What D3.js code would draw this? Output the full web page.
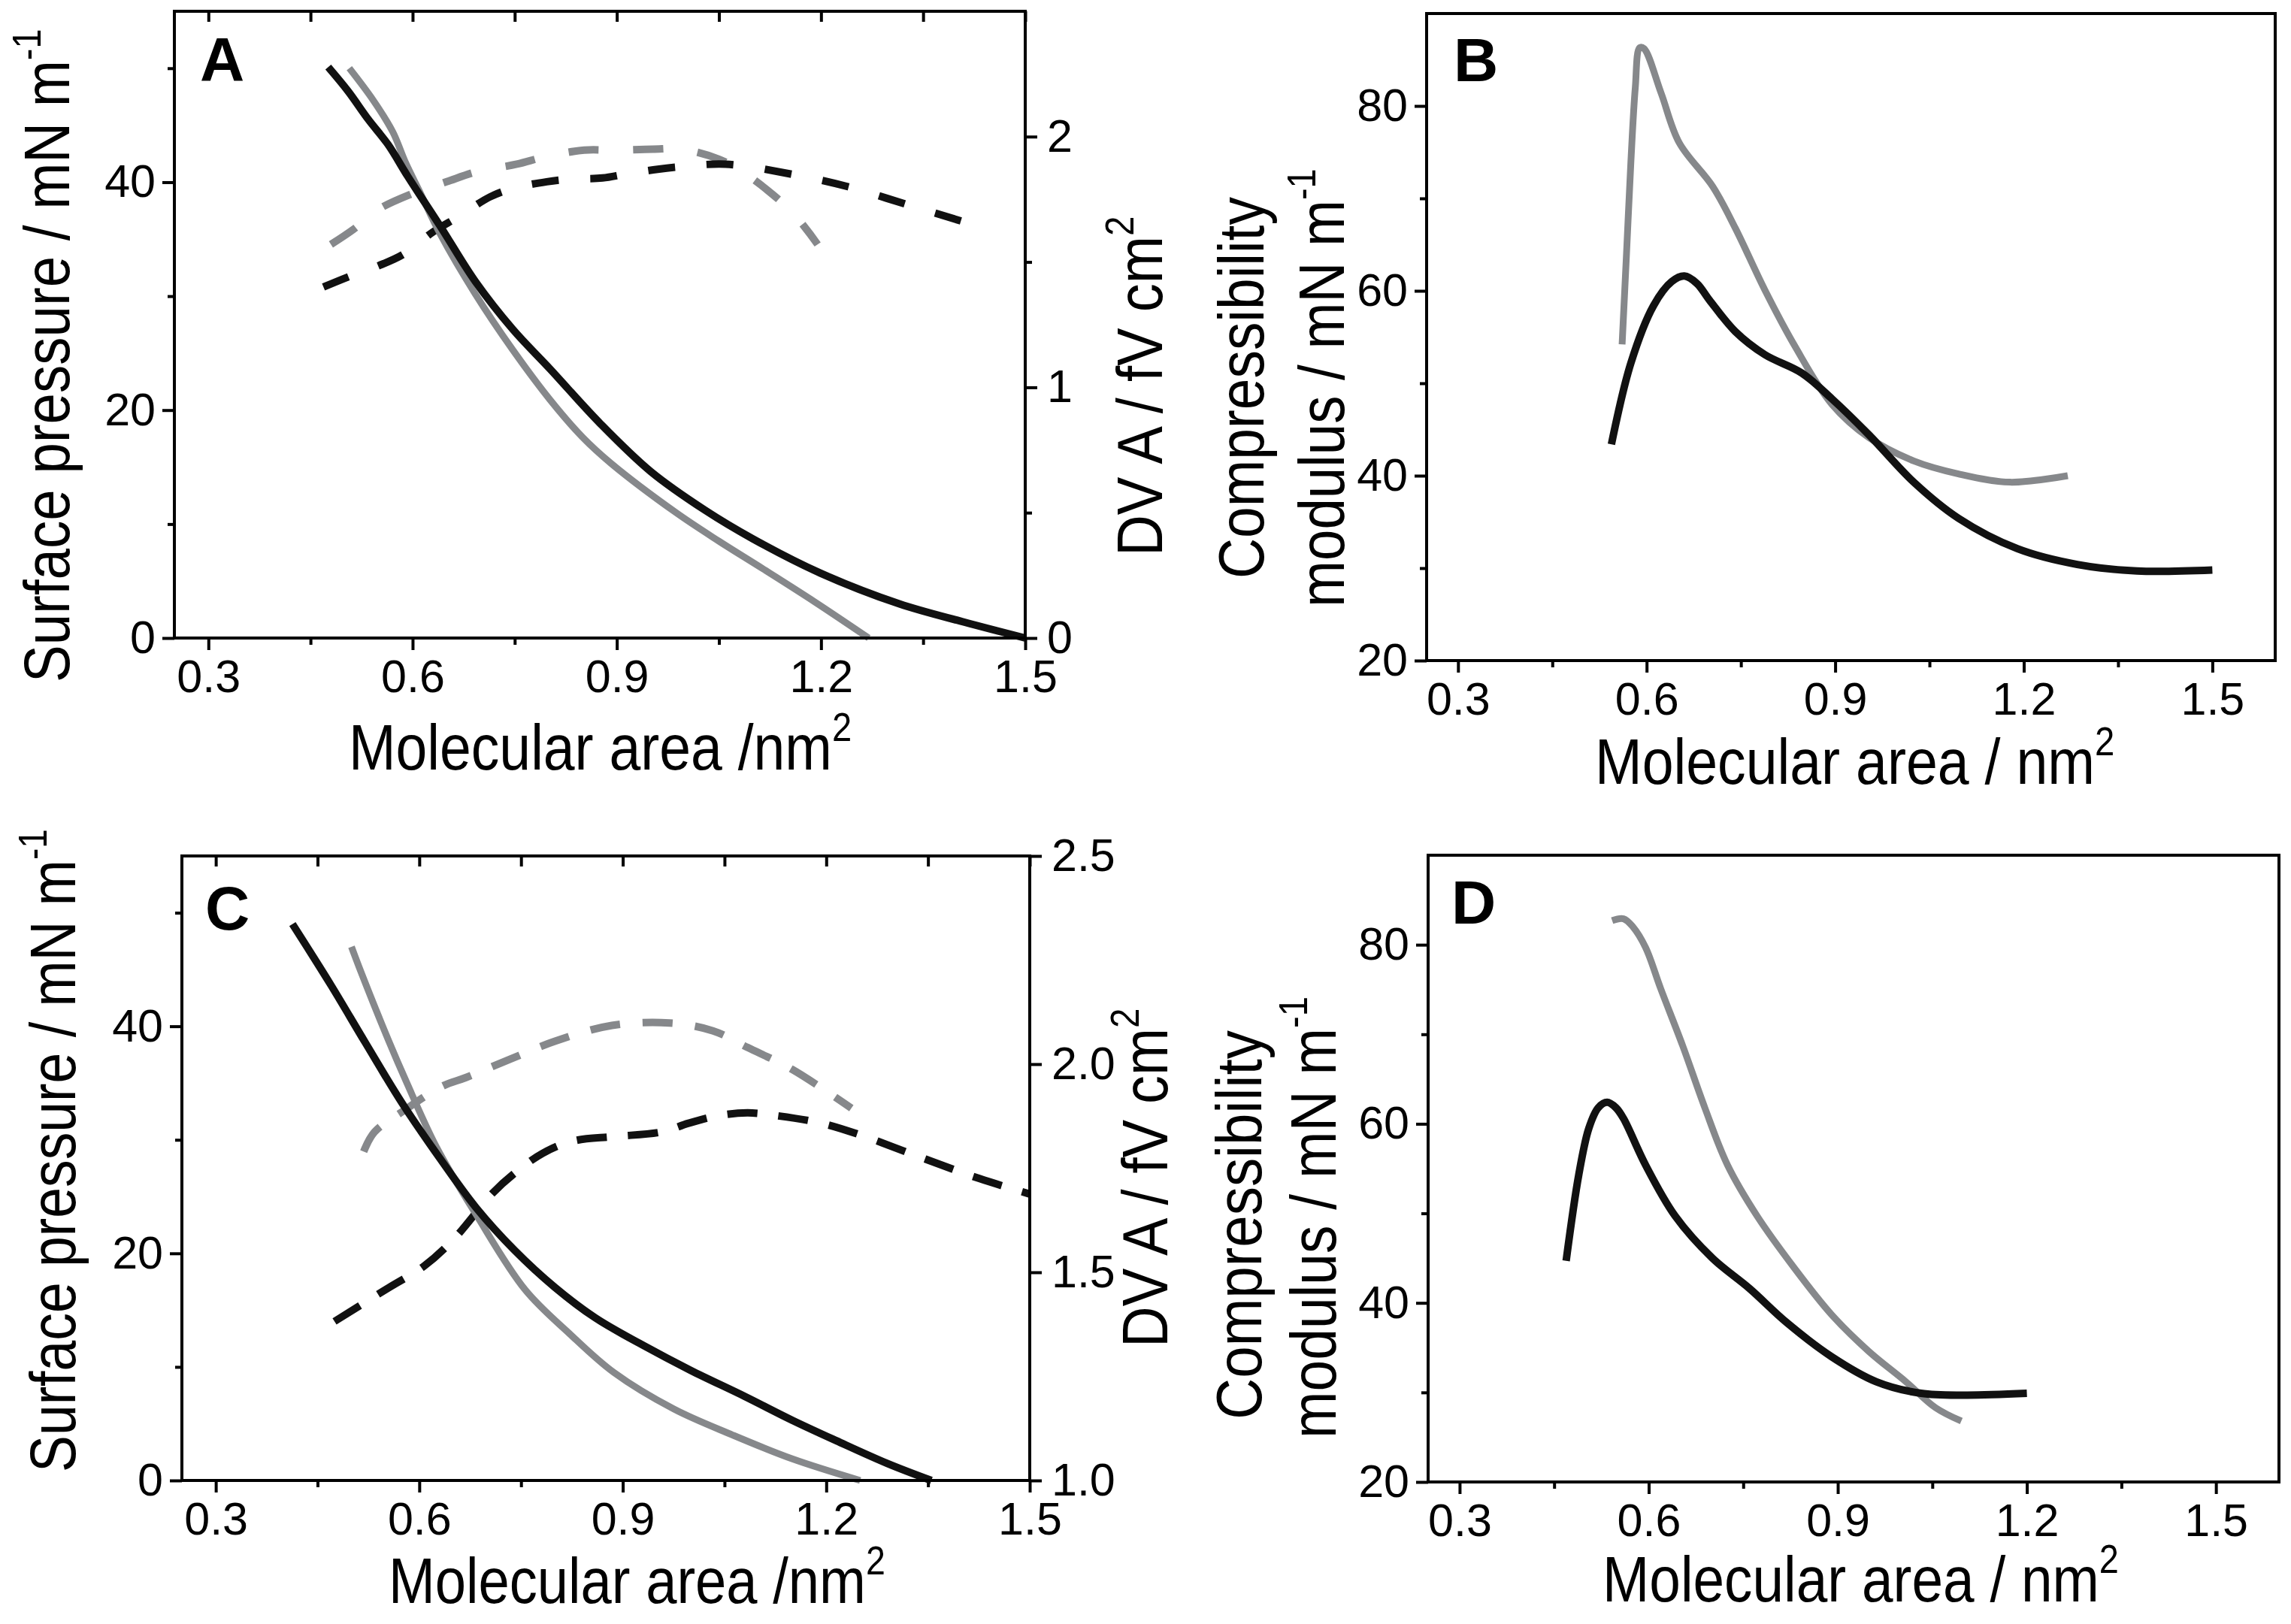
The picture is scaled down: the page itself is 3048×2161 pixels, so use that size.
<!DOCTYPE html>
<html>
<head>
<meta charset="utf-8">
<script src="https://cdnjs.cloudflare.com/ajax/libs/d3/7.8.5/d3.min.js"></script>
<style>
  body { margin: 0; background: #fff; }
  svg text { font-family: "Liberation Sans", Arial, Helvetica, sans-serif; }
</style>
</head>
<body>
<svg id="chart"></svg>
<script>
// ---- data: [molecular area (nm2), value] ----

// Panel A: surface pressure (left axis, mN/m)
let aPiBlack = [[0.476,50.1],[0.505,48.0],[0.535,45.5],[0.564,43.3],[0.593,40.5],[0.641,36.1],[0.692,31.3],[0.747,27.1],[0.802,23.6],[0.876,18.8],[0.95,14.6],[1.03,11.2],[1.10,8.7],[1.199,5.7],[1.315,3.0],[1.41,1.4],[1.5,0]];
let aPiGray = [[0.507,50.0],[0.542,47.2],[0.571,44.4],[0.589,41.8],[0.611,39.1],[0.641,35.4],[0.692,30.2],[0.747,25.3],[0.802,20.9],[0.85,17.6],[0.892,15.3],[0.987,11.0],[1.05,8.5],[1.114,6.1],[1.19,3.2],[1.27,0]];
// Panel A: surface potential (right axis, fV cm2)
let aDvBlack = [[0.469,1.40],[0.505,1.44],[0.55,1.485],[0.586,1.53],[0.63,1.62],[0.667,1.68],[0.714,1.76],[0.749,1.795],[0.797,1.82],[0.83,1.83],[0.879,1.835],[0.912,1.85],[0.96,1.87],[0.995,1.88],[1.06,1.89],[1.157,1.85],[1.24,1.80],[1.325,1.73],[1.41,1.66]];
let aDvGray = [[0.48,1.57],[0.513,1.63],[0.55,1.71],[0.597,1.77],[0.65,1.82],[0.694,1.86],[0.753,1.89],[0.795,1.92],[0.852,1.946],[0.894,1.946],[0.953,1.95],[0.995,1.95],[1.05,1.91],[1.09,1.85],[1.157,1.70],[1.195,1.57]];

// Panel B: compressibility modulus
let bKGray = [[0.561,54.2],[0.568,64],[0.575,74],[0.582,82],[0.589,86.3],[0.596,86.2],[0.623,81.4],[0.652,76.0],[0.705,71.3],[0.741,66.8],[0.788,60.1],[0.836,54.0],[0.895,47.7],[0.954,44.1],[1.025,41.6],[1.096,40.2],[1.178,39.3],[1.27,40.0]];
let bKBlack = [[0.544,43.4],[0.575,52.2],[0.611,58.4],[0.64,61.0],[0.66,61.6],[0.68,60.8],[0.70,59.0],[0.741,55.6],[0.788,53.1],[0.847,51.1],[0.895,48.3],[0.954,44.4],[1.025,39.3],[1.096,35.4],[1.19,32.1],[1.285,30.4],[1.38,29.7],[1.5,29.8]];

// Panel C: surface pressure (left) and surface potential (right)
let cPiBlack = [[0.413,49.0],[0.47,43.6],[0.52,38.6],[0.575,33.2],[0.63,28.4],[0.684,24.0],[0.74,20.3],[0.80,17.0],[0.86,14.3],[0.93,11.9],[1.0,9.7],[1.08,7.4],[1.15,5.3],[1.215,3.5],[1.29,1.5],[1.355,0]];
let cPiGray = [[0.50,47.0],[0.512,45.1],[0.555,38.7],[0.581,35.1],[0.625,29.4],[0.684,23.4],[0.756,16.8],[0.822,12.9],[0.887,9.5],[0.975,6.3],[1.062,4.0],[1.15,1.9],[1.25,0]];
let cDvBlack = [[0.475,1.382],[0.555,1.463],[0.607,1.515],[0.651,1.58],[0.708,1.69],[0.739,1.736],[0.782,1.786],[0.826,1.815],[0.887,1.826],[0.957,1.837],[0.997,1.858],[1.04,1.876],[1.084,1.883],[1.128,1.876],[1.193,1.858],[1.25,1.83],[1.341,1.775],[1.426,1.725],[1.5,1.688]];
let cDvGray = [[0.518,1.79],[0.534,1.837],[0.576,1.887],[0.634,1.947],[0.669,1.968],[0.734,2.012],[0.80,2.055],[0.884,2.093],[0.969,2.099],[1.033,2.08],[1.084,2.04],[1.15,1.987],[1.237,1.894]];

// Panel D: compressibility modulus
let dKGray = [[0.542,82.7],[0.56,82.9],[0.575,82.0],[0.595,79.7],[0.619,75.1],[0.654,68.7],[0.689,61.8],[0.725,55.4],[0.772,49.7],[0.831,43.9],[0.89,38.7],[0.949,34.6],[1.008,31.2],[1.055,28.3],[1.096,26.8]];
let dKBlack = [[0.469,44.7],[0.489,54.3],[0.505,59.5],[0.52,61.8],[0.534,62.4],[0.548,61.8],[0.56,60.6],[0.595,55.4],[0.642,49.7],[0.701,45.0],[0.76,41.6],[0.819,37.8],[0.89,34.0],[0.961,31.2],[1.032,29.9],[1.102,29.7],[1.2,29.9]];

// tick values
let xMajor = [0.3, 0.6, 0.9, 1.2, 1.5];
let xMinor = [0.45, 0.75, 1.05, 1.35];
let piMajor = [0, 20, 40];
let piMinor = [10, 30, 50];
let dvMajorA = [0, 1, 2];
let dvMinorA = [0.5, 1.5];
let dvMajorC = [1.0, 1.5, 2.0, 2.5];
let kMajor = [20, 40, 60, 80];
let kMinor = [30, 50, 70];

// ---- drawing ----
let width = 3048;
let height = 2161;
let black = '#111111';
let gray = '#86888b';
let font = '"Liberation Sans", Arial, Helvetica, sans-serif';

let svg = d3.select('#chart').attr('width', width).attr('height', height);
svg.append('rect').attr('width', width).attr('height', height).attr('fill', '#fff');

let styleAxis = (sel) => {
    sel.attr('font-size', 61).attr('font-family', font);
    sel.select('.domain').remove();
    sel.selectAll('line').attr('stroke', '#000').attr('stroke-width', 4);
    sel.selectAll('text').attr('fill', '#000');
};

// title text squeezed along its reading direction to the measured length
let addTitle = (g, t) => {
    let txt = g.append('text').attr('font-size', 86).attr('fill', '#000').text(t.text);
    let natural = txt.node().getComputedTextLength();
    let s = t.len / natural;
    if (t.sup) {
        txt.append('tspan').attr('font-size', 54).attr('dy', -38).text(t.sup);
    }
    txt.attr('transform', 'translate(' + t.x + ',' + t.y + ')' + (t.rotate ? ' rotate(-90)' : '') + ' scale(' + s + ',1)');
};

let drawPanel = (p) => {
    let g = svg.append('g');
    let x = d3.scaleLinear().domain(p.xDomain).range([p.left, p.right]);
    let y = d3.scaleLinear().domain(p.yDomain).range([p.bottom, p.top]);
    let yR = p.yRDomain ? d3.scaleLinear().domain(p.yRDomain).range([p.bottom, p.top]) : null;

    // bottom axis
    g.append('g').attr('transform', 'translate(0,' + p.bottom + ')')
        .call(d3.axisBottom(x).tickValues(xMajor).tickFormat(d3.format('.1f')).tickSize(16).tickPadding(13))
        .call(styleAxis);
    g.append('g').attr('transform', 'translate(0,' + p.bottom + ')')
        .call(d3.axisBottom(x).tickValues(xMinor).tickFormat('').tickSize(9))
        .call(styleAxis);

    // top ticks pointing inward (A and C only)
    if (p.topTicks) {
        g.append('g').attr('transform', 'translate(0,' + p.top + ')')
            .call(d3.axisTop(x).tickValues(xMajor.concat(xMinor)).tickFormat('').tickSize(-14))
            .call(styleAxis);
    }

    // left axis
    g.append('g').attr('transform', 'translate(' + p.left + ',0)')
        .call(d3.axisLeft(y).tickValues(p.yMajor).tickFormat(d3.format('d')).tickSize(16).tickPadding(9))
        .call(styleAxis);
    g.append('g').attr('transform', 'translate(' + p.left + ',0)')
        .call(d3.axisLeft(y).tickValues(p.yMinor).tickFormat('').tickSize(9))
        .call(styleAxis);

    // right axis
    if (yR) {
        g.append('g').attr('transform', 'translate(' + p.right + ',0)')
            .call(d3.axisRight(yR).tickValues(p.yRMajor).tickFormat(d3.format(p.yRFormat)).tickSize(16).tickPadding(13))
            .call(styleAxis);
        if (p.yRMinor) {
            g.append('g').attr('transform', 'translate(' + p.right + ',0)')
                .call(d3.axisRight(yR).tickValues(p.yRMinor).tickFormat('').tickSize(9))
                .call(styleAxis);
        }
    }

    // curves
    p.series.forEach((s) => {
        let sc = s.right ? yR : y;
        let line = d3.line()
            .x((d) => x(d[0]))
            .y((d) => sc(d[1]))
            .curve(d3.curveCatmullRom.alpha(0.5));
        g.append('path')
            .datum(s.data)
            .attr('d', line)
            .attr('fill', 'none')
            .attr('stroke', s.color)
            .attr('stroke-width', s.width)
            .attr('stroke-linejoin', 'round')
            .attr('stroke-dasharray', s.dash || null);
    });

    // frame
    g.append('rect')
        .attr('x', p.left).attr('y', p.top)
        .attr('width', p.right - p.left).attr('height', p.bottom - p.top)
        .attr('fill', 'none').attr('stroke', '#000').attr('stroke-width', 4);

    // panel letter
    g.append('text').attr('x', p.letter[1]).attr('y', p.letter[2])
        .attr('font-size', 82).attr('font-weight', 'bold').attr('fill', '#000')
        .text(p.letter[0]);

    p.titles.forEach((t) => addTitle(g, t));
};

drawPanel({
    left: 232, right: 1364, top: 15, bottom: 849,
    xDomain: [0.25, 1.5], yDomain: [0, 55], yRDomain: [0, 2.5],
    topTicks: true,
    yMajor: piMajor, yMinor: piMinor,
    yRMajor: dvMajorA, yRMinor: dvMinorA, yRFormat: 'd',
    letter: ['A', 266, 107],
    series: [
        { data: aDvGray, right: true, color: gray, width: 10, dash: '40,46' },
        { data: aDvBlack, right: true, color: black, width: 10, dash: '36,42' },
        { data: aPiGray, color: gray, width: 9 },
        { data: aPiBlack, color: black, width: 10 }
    ],
    titles: [
        { text: 'Surface pressure / mN m', sup: '-1', x: 92, y: 908, len: 828, rotate: true },
        { text: 'DV A / fV cm', sup: '2', x: 1546, y: 740, len: 426, rotate: true },
        { text: 'Molecular area /nm', sup: '2', x: 464, y: 1024, len: 643 }
    ]
});

drawPanel({
    left: 1898, right: 3027, top: 18, bottom: 879,
    xDomain: [0.25, 1.6], yDomain: [20, 90],
    topTicks: false,
    yMajor: kMajor, yMinor: kMinor,
    letter: ['B', 1934, 108],
    series: [
        { data: bKGray, color: gray, width: 9 },
        { data: bKBlack, color: black, width: 10 }
    ],
    titles: [
        { text: 'Compressibility', x: 1681, y: 770, len: 508, rotate: true },
        { text: 'modulus / mN m', sup: '-1', x: 1788, y: 808, len: 542, rotate: true },
        { text: 'Molecular area / nm', sup: '2', x: 2122, y: 1043, len: 665 }
    ]
});

drawPanel({
    left: 242, right: 1370, top: 1139, bottom: 1970,
    xDomain: [0.25, 1.5], yDomain: [0, 55], yRDomain: [1.0, 2.5],
    topTicks: true,
    yMajor: piMajor, yMinor: piMinor,
    yRMajor: dvMajorC, yRFormat: '.1f',
    letter: ['C', 273, 1237],
    series: [
        { data: cDvGray, right: true, color: gray, width: 10, dash: '40,30' },
        { data: cDvBlack, right: true, color: black, width: 10, dash: '40,28' },
        { data: cPiGray, color: gray, width: 9 },
        { data: cPiBlack, color: black, width: 10 }
    ],
    titles: [
        { text: 'Surface pressure / mN m', sup: '-1', x: 100, y: 1959, len: 815, rotate: true },
        { text: 'DV A / fV cm', sup: '2', x: 1553, y: 1793, len: 425, rotate: true },
        { text: 'Molecular area /nm', sup: '2', x: 517, y: 2133, len: 635 }
    ]
});

drawPanel({
    left: 1900, right: 3032, top: 1138, bottom: 1972,
    xDomain: [0.25, 1.6], yDomain: [20, 90],
    topTicks: false,
    yMajor: kMajor, yMinor: kMinor,
    letter: ['D', 1931, 1229],
    series: [
        { data: dKGray, color: gray, width: 9 },
        { data: dKBlack, color: black, width: 10 }
    ],
    titles: [
        { text: 'Compressibility', x: 1678, y: 1889, len: 518, rotate: true },
        { text: 'modulus / mN m', sup: '-1', x: 1777, y: 1914, len: 546, rotate: true },
        { text: 'Molecular area / nm', sup: '2', x: 2132, y: 2131, len: 661 }
    ]
});
</script>
</body>
</html>
